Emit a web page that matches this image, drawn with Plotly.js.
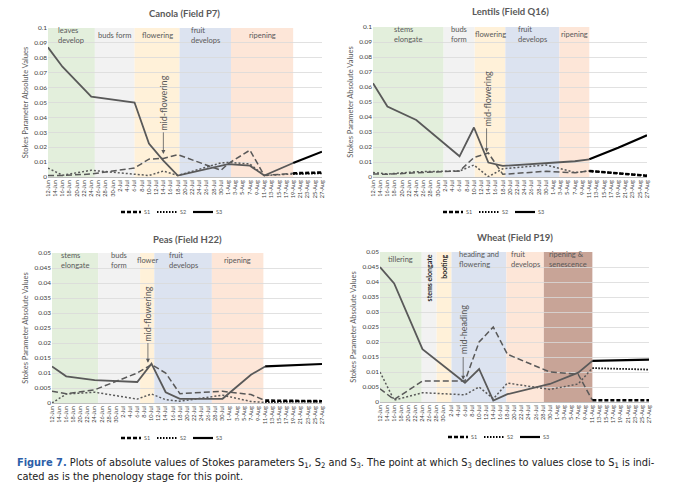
<!DOCTYPE html>
<html>
<head>
<meta charset="utf-8">
<script src="https://cdn.plot.ly/plotly-3.0.1.min.js"></script>
<style>
  html, body { margin: 0; padding: 0; background: #fff; }
  #plot { width: 680px; height: 489px; }
</style>
</head>
<body>
<div id="plot"></div>
<script>
"use strict";

// ── Data ──
const canolaDates = ["2019-06-12", "2019-06-16", "2019-06-24", "2019-07-06", "2019-07-10", "2019-07-14",
                     "2019-07-18", "2019-07-30", "2019-08-01", "2019-08-07", "2019-08-11", "2019-08-19", "2019-08-27"];
const canolaS1 = [0.001, 0.001, 0.002, 0.006, 0.012, 0.0125, 0.015, 0.0045, 0.009, 0.018, 0.001, 0.0025, 0.003];
const canolaS2 = [0.006, 0.0012, 0.0045, 0.002, 0.001, 0.004, 0.001, 0.0095, 0.0098, 0.0088, 0.001, 0.002, 0.0025];
const canolaS3 = [0.087, 0.074, 0.054, 0.050, 0.0225, 0.011, 0.001, 0.0077, 0.0087, 0.0076, 0.001, 0.0094, 0.017];

const lentilDates = ["2019-06-12", "2019-06-16", "2019-06-24", "2019-07-06", "2019-07-10", "2019-07-14",
                     "2019-07-18", "2019-07-30", "2019-08-07", "2019-08-11", "2019-08-19", "2019-08-27"];
const lentilS1 = [0.002, 0.0018, 0.0028, 0.004, 0.013, 0.016, 0.0018, 0.0038, 0.0028, 0.004, 0.0025, 0.0008];
const lentilS2 = [0.003, 0.002, 0.0035, 0.004, 0.008, 0.0002, 0.0055, 0.008, 0.003, 0.004, 0.0025, 0.001];
const lentilS3 = [0.0625, 0.047, 0.038, 0.0138, 0.033, 0.0096, 0.0074, 0.0095, 0.0105, 0.0118, 0.0195, 0.0278];

const peaDates = lentilDates;
const peaS1 = [0.0039, 0.0031, 0.0044, 0.010, 0.0128, 0.010, 0.0031, 0.0039, 0.0028, 0.0008, 0.0006, 0.0006];
const peaS2 = [0.0, 0.003, 0.0036, 0.0013, 0.003, 0.0011, 0.0006, 0.0026, 0.0005, 0.0002, 0.0005, 0.0005];
const peaS3 = [0.0122, 0.0089, 0.0076, 0.007, 0.0131, 0.0036, 0.0014, 0.0014, 0.0094, 0.0122, 0.0125, 0.013];

const wheatDates = lentilDates;
const wheatS1 = [0.0044, 0.0008, 0.007, 0.007, 0.020, 0.025, 0.0159, 0.010, 0.0092, 0.0006, 0.0006, 0.0006];
const wheatS2 = [0.010, 0.0006, 0.0031, 0.0024, 0.005, 0.0011, 0.0063, 0.0042, 0.006, 0.0113, 0.0111, 0.0108];
const wheatS3 = [0.045, 0.0395, 0.0176, 0.0064, 0.011, 0.0005, 0.0026, 0.006, 0.0098, 0.0137, 0.0139, 0.0141];

// phenology stages: labels and boundaries (n labels -> n+1 dates)
const canolaStages = ["leaves<br>develop", "buds form", "flowering", "fruit<br>develops", "ripening"];
const canolaBounds = ["2019-06-12", "2019-06-25", "2019-07-06", "2019-07-18 12:00", "2019-08-01 18:00", "2019-08-19"];
const lentilStages = ["stems<br>elongate", "buds<br>form", "flowering", "fruit<br>develops", "ripening"];
const lentilBounds = ["2019-06-12", "2019-07-01 14:00", "2019-07-10 05:00", "2019-07-18 17:00", "2019-08-02 17:00", "2019-08-11"];
const peaStages = ["stems<br>elongate", "buds<br>form", "flower", "fruit<br>develops", "ripening"];
const peaBounds = ["2019-06-12", "2019-06-25", "2019-07-06 19:00", "2019-07-10 19:00", "2019-07-27", "2019-08-10 12:00"];
const wheatStages = ["tillering", "stems elongate", "booting", "heading and<br>flowering", "fruit<br>develops", "ripening &<br>senescence"];
const wheatBounds = ["2019-06-12", "2019-06-23 19:00", "2019-06-28", "2019-07-02 05:00", "2019-07-17 17:00", "2019-07-28 07:00", "2019-08-11"];

const seriesNames = ["S1", "S2", "S3"];

const STAGE_COLORS = ["#e3efdc", "#f2f2f2", "#fff1d9", "#dce3f0", "#fde6d8", "#c8a497"];
const GREY = "#595959";
const W = 680, H = 489;

// panel boxes in px [left, right, top, bottom]; the rest is annotation placement
const panels = [
    { title: "Canola (Field P7)", dates: canolaDates, s: [canolaS1, canolaS2, canolaS3],
      split: "2019-08-19", ymax: 0.1, dtick: 0.01, stages: canolaStages, bounds: canolaBounds,
      box: [48, 322, 28, 177], titleY: 13, legend: [171, 212],
      mid: { text: "mid-flowering", x: "2019-07-14", ty: 0.050, y0: 0.031, y1: 0.0155 } },
    { title: "Lentils (Field Q16)", dates: lentilDates, s: [lentilS1, lentilS2, lentilS3],
      split: "2019-08-11", ymax: 0.1, dtick: 0.01, stages: lentilStages, bounds: lentilBounds,
      box: [373, 647, 27, 177], titleY: 12, legend: [493, 212],
      mid: { text: "mid-flowering", x: "2019-07-13 12:00", ty: 0.052, y0: 0.0335, y1: 0.0165 } },
    { title: "Peas (Field H22)", dates: peaDates, s: [peaS1, peaS2, peaS3],
      split: "2019-08-11", ymax: 0.05, dtick: 0.005, stages: peaStages, bounds: peaBounds,
      box: [52, 322, 253, 403], titleY: 239, legend: [171, 438],
      mid: { text: "mid-flowering", x: "2019-07-09", ty: 0.0297, y0: 0.0205, y1: 0.0134 } },
    { title: "Wheat (Field P19)", dates: wheatDates, s: [wheatS1, wheatS2, wheatS3],
      split: "2019-08-11", ymax: 0.05, dtick: 0.005, stages: wheatStages, bounds: wheatBounds,
      box: [380, 649, 252, 402], titleY: 237, legend: [498, 437],
      mid: { text: "mid-heading", x: "2019-07-05 12:00", ty: 0.024, y0: 0.0155, y1: 0.0074 } },
];
// early (grey) and late (black) stroke styles for S1, S2, S3
const EARLY_DASH = ["6px,3px", "2px,2px", "solid"];
const LATE_DASH = ["4px,2px", "1.5px,1.5px", "solid"];
const LATE_W = [2.6, 1.8, 2.2];

const FONT = "Lato, 'Open Sans', sans-serif";
const DAY = 86400000;
const ms = s => Date.parse(s.replace(" ", "T") + "Z");

const traces = [], shapes = [], annotations = [];
const layout = {
    width: W, height: H,
    margin: { l: 0, r: 0, t: 0, b: 0 },
    paper_bgcolor: "#fff", plot_bgcolor: "#fff",
    font: { family: FONT, color: GREY },
    showlegend: false,
};

panels.forEach((p, k) => {
    const sfx = k === 0 ? "" : String(k + 1);
    const xa = "x" + sfx, ya = "y" + sfx;
    const [l, r, t, b] = p.box;

    layout["xaxis" + sfx] = {
        domain: [l / W, r / W], anchor: ya, type: "date",
        range: ["2019-06-12", "2019-08-27"],
        tick0: "2019-06-12", dtick: 2 * DAY, tickformat: "%-d-%b",
        tickangle: -90, tickfont: { size: 5.5, color: "#404040" },
        showgrid: false, zeroline: false, showline: true,
        linecolor: "#bfbfbf", linewidth: 1, ticks: "", fixedrange: true,
    };
    layout["yaxis" + sfx] = {
        domain: [1 - b / H, 1 - t / H], anchor: xa,
        range: [0, p.ymax], dtick: p.dtick,
        tickfont: { size: 6.5, color: "#404040" },
        gridcolor: "#d9d9d9", gridwidth: 0.8, zeroline: false, showline: false,
        ticks: "", fixedrange: true,
        title: { text: "Stokes Parameter Absolute Values", font: { size: 7.5, color: GREY }, standoff: 4 },
    };

    // phenology bands, drawn under the gridlines
    p.stages.forEach((lab, i) => {
        const x0 = p.bounds[i], x1 = p.bounds[i + 1];
        shapes.push({
            type: "rect", xref: xa, yref: ya + " domain",
            x0, x1, y0: 0, y1: 1, layer: "below",
            fillcolor: STAGE_COLORS[i], line: { width: 0 },
        });
        const mid = new Date((ms(x0) + ms(x1)) / 2).toISOString();
        // narrow wheat bands carry a vertical label
        const narrow = (ms(x1) - ms(x0)) / DAY < 5 && lab.indexOf(" ") > 0 || lab === "booting";
        annotations.push(narrow ? {
            xref: xa, yref: ya + " domain", x: mid, y: 0.995,
            xanchor: "center", yanchor: "top", textangle: -90,
            text: "<b>" + lab + "</b>", showarrow: false,
            font: { size: 7, color: "#262626" },
        } : {
            xref: xa, yref: ya + " domain", x: mid, y: 0.948,
            xanchor: "center", yanchor: "middle", align: "left",
            text: lab, showarrow: false,
            font: { size: 7.5, color: GREY },
        });
    });

    // series: grey for the observed part, black after the split date
    const si = p.dates.indexOf(p.split);
    p.s.forEach((vals, j) => {
        traces.push({
            type: "scatter", mode: "lines", xaxis: xa, yaxis: ya,
            x: p.dates.slice(0, si + 1), y: vals.slice(0, si + 1),
            line: { color: GREY, width: j === 2 ? 1.8 : 1.5, dash: EARLY_DASH[j] },
            hoverinfo: "skip",
        });
    });
    p.s.forEach((vals, j) => {
        traces.push({
            type: "scatter", mode: "lines", xaxis: xa, yaxis: ya,
            x: p.dates.slice(si), y: vals.slice(si),
            line: { color: "#000", width: LATE_W[j], dash: LATE_DASH[j] },
            name: seriesNames[j], hoverinfo: "skip",
        });
    });

    // compact legend under each panel (line sample + label)
    const [cx, cy] = p.legend;
    let lx = cx - 50;
    seriesNames.forEach((nm, j) => {
        shapes.push({
            type: "line", xref: "paper", yref: "paper",
            x0: lx / W, x1: (lx + 20) / W, y0: 1 - cy / H, y1: 1 - cy / H,
            line: { color: "#000", width: LATE_W[j], dash: LATE_DASH[j] },
        });
        annotations.push({
            xref: "paper", yref: "paper", x: (lx + 21) / W, y: 1 - cy / H,
            xanchor: "left", yanchor: "middle", showarrow: false,
            text: nm, font: { size: 5.5, color: GREY },
        });
        lx += 36;
    });

    // title
    annotations.push({
        xref: "paper", yref: "paper", x: ((l + r) / 2) / W, y: 1 - p.titleY / H,
        xanchor: "center", yanchor: "middle", showarrow: false,
        text: "<b>" + p.title + "</b>", font: { size: 9.5, color: GREY },
    });

    // phenology marker: rotated text + arrow
    annotations.push({
        xref: xa, yref: ya, x: p.mid.x, y: p.mid.ty, textangle: -90,
        xanchor: "center", yanchor: "middle", showarrow: false,
        text: p.mid.text, font: { size: 9, color: GREY },
    });
    annotations.push({
        xref: xa, yref: ya, x: p.mid.x, y: p.mid.y1,
        axref: xa, ayref: ya, ax: p.mid.x, ay: p.mid.y0,
        text: "", showarrow: true, arrowhead: 2, arrowsize: 1,
        arrowwidth: 0.8, arrowcolor: GREY,
    });
});

// caption: pick a condensed face if one is installed, then size line 1 to ~640px
const CAP1 = "Figure 7. Plots of absolute values of Stokes parameters S1, S2 and S3. " +
             "The point at which S3 declines to values close to S1 is indi-";
const ctx = document.createElement("canvas").getContext("2d");
function hasFont(name) {
    const probe = "abcdefghijklmnopqrstuvwxyzWM0123";
    ctx.font = "40px monospace";
    const base = ctx.measureText(probe).width;
    ctx.font = "40px '" + name + "', monospace";
    return ctx.measureText(probe).width !== base;
}
const capFace = ["Liberation Sans Narrow", "DejaVu Sans Condensed", "Roboto Condensed", "Lato"]
    .find(hasFont) || "Lato";
ctx.font = "12px '" + capFace + "'";
const capSize = Math.min(12, 12 * 640 / ctx.measureText(CAP1).width);

annotations.push({
    xref: "paper", yref: "paper", x: 15 / W, y: 1 - 469 / H,
    xanchor: "left", yanchor: "middle", align: "left", showarrow: false,
    text: "<span style='color:#2c5ea8'><b>Figure 7.</b></span> Plots of absolute values of Stokes parameters " +
          "S<sub>1</sub>, S<sub>2</sub> and S<sub>3</sub>. The point at which S<sub>3</sub> declines to values " +
          "close to S<sub>1</sub> is indi-<br>cated as is the phenology stage for this point.",
    font: { family: "'" + capFace + "', Lato, sans-serif", size: capSize, color: "#1a1a1a" },
});

layout.shapes = shapes;
layout.annotations = annotations;

Plotly.newPlot("plot", traces, layout, { displayModeBar: false, staticPlot: true });
</script>
</body>
</html>
